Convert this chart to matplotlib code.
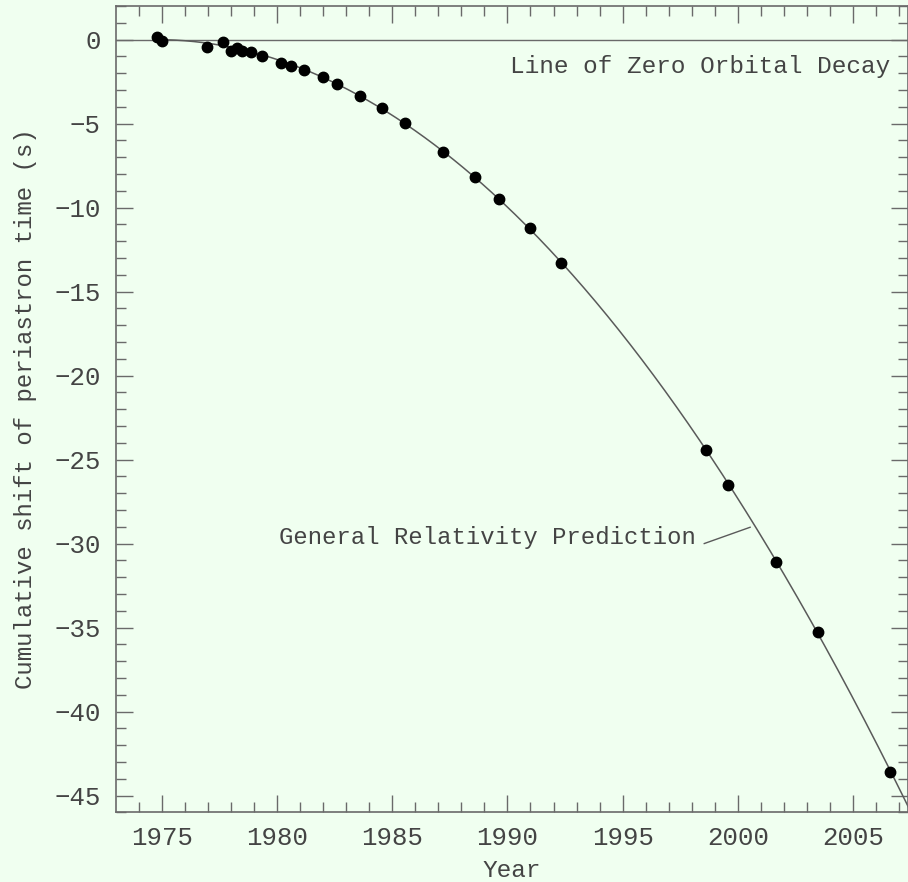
import numpy as np
import matplotlib
matplotlib.use('Agg')
import matplotlib.pyplot as plt
from matplotlib.ticker import MultipleLocator

years = [1974.80, 1975.00, 1976.98, 1977.66, 1978.02, 1978.28, 1978.50, 1978.89,
         1979.37, 1980.16, 1980.62, 1981.17, 1981.99, 1982.60, 1983.60, 1984.55,
         1985.55, 1987.21, 1988.58, 1989.62, 1990.96, 1992.34, 1998.62, 1999.59,
         2001.66, 2003.47, 2006.60]
shift = [0.18, -0.06, -0.46, -0.16, -0.70, -0.50, -0.70, -0.71,
         -0.95, -1.39, -1.55, -1.83, -2.22, -2.65, -3.35, -4.09,
         -4.96, -6.67, -8.19, -9.50, -11.23, -13.29, -24.46, -26.49,
         -31.11, -35.28, -43.60]

# GR prediction: dT = 0.5 * (Pb_dot / Pb) * t^2
Pb = 27906.98          # orbital period (s)
Pb_dot = -2.4025e-12   # orbital period derivative (s/s)
t_ref = 1974.75        # reference epoch (yr)
sec_per_year = 3.15576e7

ink = '#444444'
bg = '#f0fff0'
plt.rcParams['font.family'] = ['Liberation Mono', 'DejaVu Sans Mono']

fig = plt.figure(figsize=(9.08, 8.82), dpi=100, facecolor=bg)
ax = fig.add_axes([0.1278, 0.0790, 0.8717, 0.9142], facecolor=bg)

t_curve = np.linspace(t_ref, 2008.0, 400)
gr = 0.5 * (Pb_dot / Pb) * ((t_curve - t_ref) * sec_per_year) ** 2

ax.axhline(0, color='#6a6a6a', lw=1.0)
ax.plot(t_curve, gr, color='#5a5a5a', lw=1.1)
ax.plot(years, shift, 'o', color='black', ms=7.5, zorder=3)

ax.text(2006.6, -2.0, 'Line of Zero Orbital Decay', ha='right', va='baseline',
        fontsize=17.6, color=ink)
ax.text(1980.08, -30.0, 'General Relativity Prediction', ha='left', va='baseline',
        fontsize=17.2, color=ink)
ax.plot([1998.54, 2000.53], [-30.0, -29.03], color='#5a5a5a', lw=1.0)

ax.set_xlim(1973.02, 2007.36)
ax.set_ylim(-46, 2)
ax.xaxis.set_major_locator(MultipleLocator(5))
ax.xaxis.set_minor_locator(MultipleLocator(1))
ax.yaxis.set_major_locator(MultipleLocator(5))
ax.yaxis.set_minor_locator(MultipleLocator(1))
ax.tick_params(which='both', direction='in', top=True, right=True,
               color='#6a6a6a', width=1.0, labelcolor=ink, labelsize=18.5)
ax.tick_params(which='major', length=12.5)
ax.tick_params(which='minor', length=7)
ax.tick_params(axis='x', pad=10)
ax.tick_params(axis='y', pad=11)
for s in ax.spines.values():
    s.set_color('#6a6a6a')
    s.set_linewidth(1.2)

ax.set_xlabel('Year', fontsize=17.6, color=ink)
ax.set_ylabel('Cumulative shift of periastron time (s)', fontsize=17.3, color=ink)
ax.xaxis.set_label_coords(0.5, -0.058)
ax.yaxis.set_label_coords(-0.100, 0.5)

fig.savefig('out.png', dpi=100, facecolor=bg)
